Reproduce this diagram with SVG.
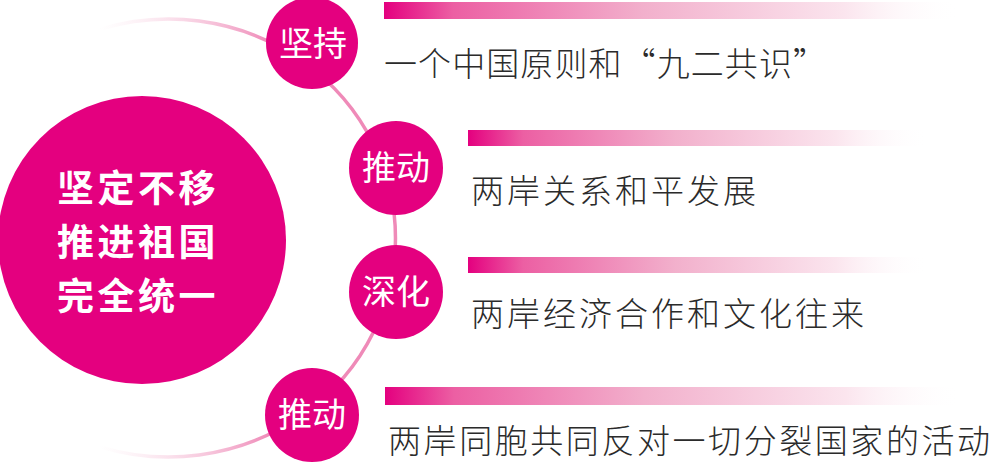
<svg xmlns="http://www.w3.org/2000/svg" width="994" height="463" viewBox="0 0 994 463">
<defs>
<linearGradient id="bar" x1="0" y1="0" x2="1" y2="0">
<stop offset="0" stop-color="#e4007f"/>
<stop offset="0.12" stop-color="#ec5fa3"/>
<stop offset="0.45" stop-color="#f2b0cc"/>
<stop offset="0.8" stop-color="#fbe5ee"/>
<stop offset="1" stop-color="#ffffff" stop-opacity="0"/>
</linearGradient>
<linearGradient id="arcg" gradientUnits="userSpaceOnUse" x1="100" y1="0" x2="270" y2="0">
<stop offset="0" stop-color="#f7d3e2" stop-opacity="0"/>
<stop offset="1" stop-color="#ef8ab8"/>
</linearGradient>
<style>
.big{fill:#e4007f}
.dot{fill:#e4007f}
.lbl{fill:#ffffff;font-family:"Noto Sans CJK SC","Noto Sans",sans-serif;font-size:34px;text-anchor:middle}
.title{fill:#ffffff;font-family:"Noto Sans CJK SC","Noto Sans",sans-serif;font-size:37px;font-weight:bold;text-anchor:middle;letter-spacing:3.5px}
.txt{fill:#2b2b2b;font-family:"Noto Sans CJK SC","Noto Sans",sans-serif;font-size:33px;font-weight:300}
</style>
</defs>
<g id="connectors">
<path d="M 100 29.2 A 227 219 0 1 1 100 446.8" fill="none" stroke="url(#arcg)" stroke-width="3.5"/>
</g>
<g id="center">
<circle class="big" cx="142" cy="240" r="144"/>
<text class="title"><tspan x="138" y="202">坚定不移</tspan><tspan x="138" y="256">推进祖国</tspan><tspan x="138" y="310">完全统一</tspan></text>
</g>
<g id="node1">
<circle class="dot" cx="312" cy="43" r="46"/>
<text class="lbl" x="313" y="56">坚持</text>
<rect x="384" y="2" width="576" height="17" fill="url(#bar)"/>
<text class="txt" x="384" y="76" textLength="442" lengthAdjust="spacing">一个中国原则和“九二共识”</text>
</g>
<g id="node2">
<circle class="dot" cx="396" cy="168" r="47"/>
<text class="lbl" x="396" y="180">推动</text>
<rect x="468" y="130" width="460" height="16" fill="url(#bar)"/>
<text class="txt" x="471" y="203" textLength="285" lengthAdjust="spacing">两岸关系和平发展</text>
</g>
<g id="node3">
<circle class="dot" cx="396" cy="292" r="47"/>
<text class="lbl" x="396" y="304">深化</text>
<rect x="468" y="257" width="460" height="16" fill="url(#bar)"/>
<text class="txt" x="471" y="326" textLength="393" lengthAdjust="spacing">两岸经济合作和文化往来</text>
</g>
<g id="node4">
<circle class="dot" cx="312" cy="415" r="47"/>
<text class="lbl" x="312" y="427">推动</text>
<rect x="385" y="387" width="576" height="18" fill="url(#bar)"/>
<text class="txt" x="388" y="453" textLength="602" lengthAdjust="spacing">两岸同胞共同反对一切分裂国家的活动</text>
</g>
</svg>
